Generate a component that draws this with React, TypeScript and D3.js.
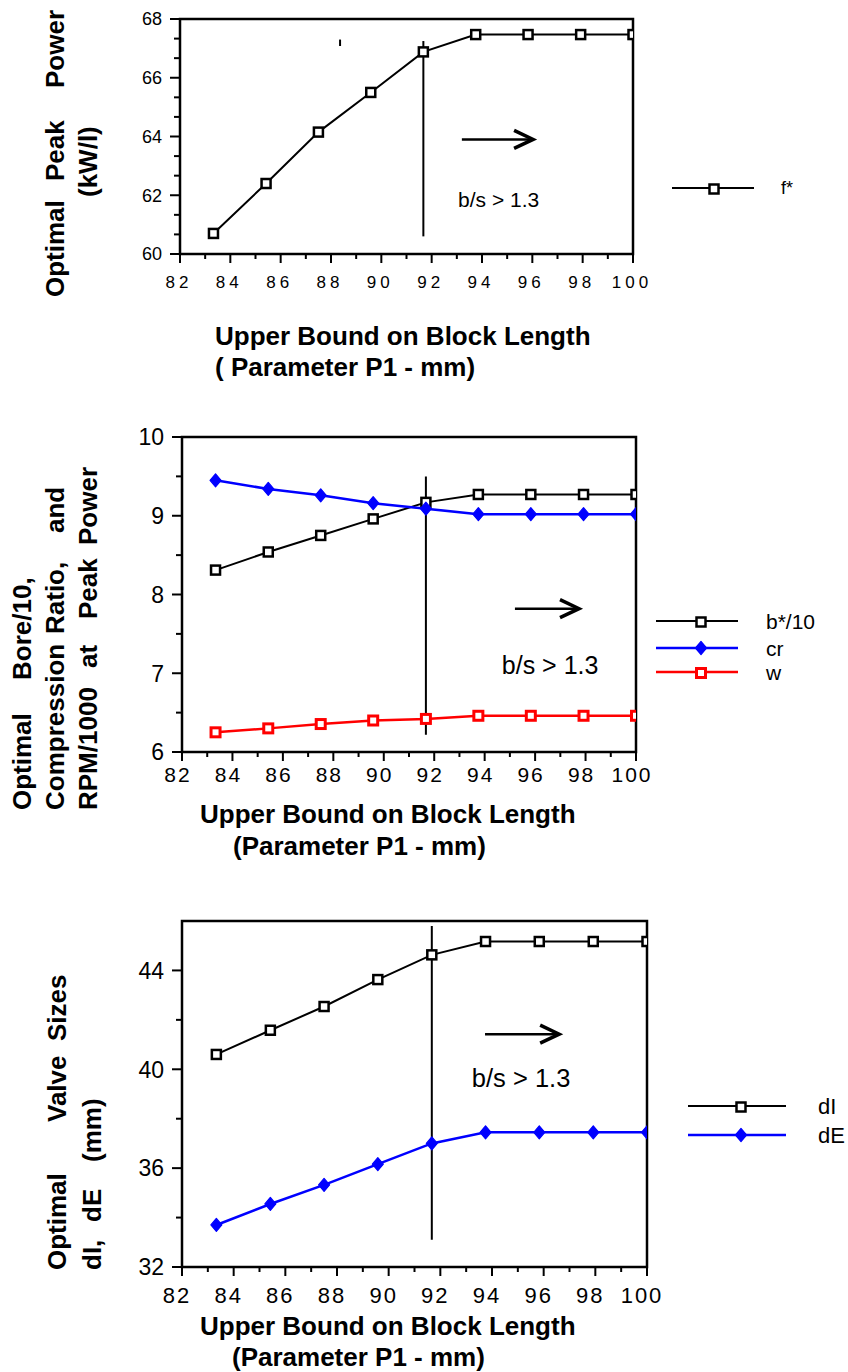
import React from "react";
import * as d3 from "d3";

const FONT = "'Liberation Sans', Arial, Helvetica, sans-serif";

// ---------- data ----------
const xValues = [83.33, 85.42, 87.5, 89.58, 91.67, 93.75, 95.83, 97.92, 100];
const fStar = [60.7, 62.4, 64.15, 65.5, 66.88, 67.47, 67.47, 67.47, 67.47];
const boreOver10 = [8.31, 8.54, 8.75, 8.96, 9.17, 9.27, 9.27, 9.27, 9.27];
const compressionRatio = [9.45, 9.34, 9.26, 9.16, 9.09, 9.02, 9.02, 9.02, 9.02];
const rpmOver1000 = [6.25, 6.3, 6.355, 6.4, 6.42, 6.46, 6.46, 6.46, 6.46];
const intakeValve = [40.6, 41.58, 42.54, 43.63, 44.63, 45.17, 45.17, 45.17, 45.17];
const exhaustValve = [33.7, 34.55, 35.32, 36.16, 37.0, 37.45, 37.45, 37.45, 37.45];

const xTicks = [82, 84, 86, 88, 90, 92, 94, 96, 98, 100];
const xMinorTicks = [83, 85, 87, 89, 91, 93, 95, 97, 99];
const yTicksTop = [60, 62, 64, 66, 68];
const yMinorTop = [60.667, 61.333, 62.667, 63.333, 64.667, 65.333, 66.667, 67.333];
const yTicksMid = [6, 7, 8, 9, 10];
const yMinorMid = [6.5, 7.5, 8.5, 9.5];
const yTicksBot = [32, 36, 40, 44];
const yMinorBot = [34, 38, 42];

const constraintX = 91.67;
const noteText = "b/s > 1.3";

type Series = { name: string; values: number[]; color: string; marker: "square" | "diamond" };

type Word = { t: string; y: number };
type PanelCfg = {
  id: string;
  l: number; t: number; r: number; b: number;
  yDomain: [number, number];
  yTicks: number[]; yMinor: number[];
  yTickFont: number;
  xTickFont: number; xTickLs: number; xTickBase: number; xTickDx: number;
  series: Series[];
  vline: [number, number, number];
  arrow: [number, number, number];
  note: [number, number, number];
  stray?: [number, number, number];
  legend: { x0: number; x1: number; mx: number; lx: number; ys: number[]; font: number };
  titles: { text: string; x: number; y: number }[];
  ylab: { base: number; words: Word[] }[];
};

const Marker: React.FC<{ type: string; x: number; y: number; color: string }> = ({ type, x, y, color }) => {
  if (type === "diamond") {
    const p = d3.path();
    p.moveTo(x, y - 6.5);
    p.lineTo(x + 5.5, y);
    p.lineTo(x, y + 6.5);
    p.lineTo(x - 5.5, y);
    p.closePath();
    return <path d={p.toString()} fill={color} stroke={color} strokeWidth={1.2} strokeLinejoin="round" />;
  }
  const s = 9;
  return (
    <rect x={x - s / 2} y={y - s / 2} width={s} height={s} fill="white" stroke={color}
      strokeWidth={color === "black" ? 2.5 : 3} />
  );
};

const Panel: React.FC<{ c: PanelCfg }> = ({ c }) => {
  const x = d3.scaleLinear().domain([82, 100]).range([c.l, c.r]);
  const y = d3.scaleLinear().domain(c.yDomain).range([c.b, c.t]);
  const line = d3.line<number>().x((_, i) => x(xValues[i])).y((v) => y(v));
  const clipId = `clip-${c.id}`;
  const [ax0, ax1, ay] = c.arrow;
  const tipX = x(ax1);
  const ayPx = y(ay);
  return (
    <g>
      <defs>
        <clipPath id={clipId}>
          <rect x={c.l} y={c.t - 1} width={c.r - c.l} height={c.b - c.t + 2} />
        </clipPath>
      </defs>
      {/* y ticks */}
      {c.yTicks.map((v) => (
        <g key={`yt${v}`}>
          <line x1={c.l - 10} x2={c.l} y1={y(v)} y2={y(v)} stroke="black" strokeWidth={2} />
          <text x={c.l - 18} y={y(v)} dy="0.36em" textAnchor="end" fontSize={c.yTickFont} fontFamily={FONT}>
            {v}
          </text>
        </g>
      ))}
      {c.yMinor.map((v) => (
        <line key={`ym${v}`} x1={c.l - 6} x2={c.l} y1={y(v)} y2={y(v)} stroke="black" strokeWidth={2} />
      ))}
      {/* x ticks */}
      {xTicks.map((v) => (
        <g key={`xt${v}`}>
          <line x1={x(v)} x2={x(v)} y1={c.b} y2={c.b + 9} stroke="black" strokeWidth={2} />
          <text x={x(v) + c.xTickDx} y={c.xTickBase} textAnchor="middle" fontSize={c.xTickFont}
            letterSpacing={c.xTickLs} fontFamily={FONT}>
            {v}
          </text>
        </g>
      ))}
      {xMinorTicks.map((v) => (
        <line key={`xm${v}`} x1={x(v)} x2={x(v)} y1={c.b} y2={c.b + 5} stroke="black" strokeWidth={2} />
      ))}
      {/* frame */}
      <rect x={c.l} y={c.t} width={c.r - c.l} height={c.b - c.t} fill="none" stroke="black" strokeWidth={2.5} />
      {/* constraint line */}
      <line x1={x(c.vline[0])} x2={x(c.vline[0])} y1={y(c.vline[1])} y2={y(c.vline[2])} stroke="black" strokeWidth={2} />
      {c.stray && (
        <line x1={x(c.stray[0])} x2={x(c.stray[0])} y1={y(c.stray[1])} y2={y(c.stray[2])} stroke="black" strokeWidth={2} />
      )}
      {/* arrow */}
      <line x1={x(ax0)} x2={tipX - 2} y1={ayPx} y2={ayPx} stroke="black" strokeWidth={2.5} />
      <polyline points={`${tipX - 19},${ayPx - 9} ${tipX},${ayPx} ${tipX - 19},${ayPx + 9}`} fill="none"
        stroke="black" strokeWidth={3.5} strokeLinejoin="miter" />
      <text x={x(c.note[0])} y={y(c.note[1])} fontSize={c.note[2]} fontFamily={FONT}>
        {noteText}
      </text>
      {/* series */}
      <g clipPath={`url(#${clipId})`}>
        {c.series.map((s) => (
          <g key={s.name}>
            <path d={line(s.values) || ""} fill="none" stroke={s.color} strokeWidth={s.color === "black" ? 2 : 2.5} />
            {s.values.map((v, i) => (
              <Marker key={i} type={s.marker} x={x(xValues[i])} y={y(v)} color={s.color} />
            ))}
          </g>
        ))}
      </g>
      {/* legend */}
      {c.series.map((s, i) => (
        <g key={`lg${s.name}`}>
          <line x1={c.legend.x0} x2={c.legend.x1} y1={c.legend.ys[i]} y2={c.legend.ys[i]} stroke={s.color}
            strokeWidth={s.color === "black" ? 2 : 2.5} />
          <Marker type={s.marker} x={c.legend.mx} y={c.legend.ys[i] + (s.marker === "square" ? 1 : 0)} color={s.color} />
          <text x={c.legend.lx} y={c.legend.ys[i]} dy="0.36em" fontSize={c.legend.font} fontFamily={FONT}>
            {s.name}
          </text>
        </g>
      ))}
      {/* x title */}
      {c.titles.map((tt) => (
        <text key={tt.text} x={tt.x} y={tt.y} fontSize={26} fontWeight="bold" fontFamily={FONT}>
          {tt.text}
        </text>
      ))}
      {/* y title (justified words) */}
      {c.ylab.map((ln, li) =>
        ln.words.map((wd) => (
          <text key={`${li}-${wd.t}`} x={ln.base} y={wd.y} transform={`rotate(-90 ${ln.base} ${wd.y})`}
            fontSize={26} fontWeight="bold" fontFamily={FONT}>
            {wd.t}
          </text>
        ))
      )}
    </g>
  );
};

const panels: PanelCfg[] = [
  {
    id: "top",
    l: 180, t: 19, r: 633, b: 254,
    yDomain: [60, 68], yTicks: yTicksTop, yMinor: yMinorTop, yTickFont: 18,
    xTickFont: 17, xTickLs: 4, xTickBase: 288, xTickDx: -1,
    series: [{ name: "f*", values: fStar, color: "black", marker: "square" }],
    vline: [constraintX, 60.6, 67.25],
    arrow: [93.2, 96.03, 63.9],
    note: [93.05, 61.6, 21],
    stray: [88.36, 67.08, 67.3],
    legend: { x0: 672, x1: 754, mx: 714, lx: 781, ys: [188], font: 18 },
    titles: [
      { text: "Upper Bound on Block Length", x: 215, y: 345 },
      { text: "( Parameter P1 - mm)", x: 215, y: 376 },
    ],
    ylab: [
      { base: 64, words: [{ t: "Optimal", y: 297 }, { t: "Peak", y: 181 }, { t: "Power", y: 88 }] },
      { base: 97, words: [{ t: "(kW/l)", y: 197 }] },
    ],
  },
  {
    id: "mid",
    l: 182, t: 437, r: 636, b: 752,
    yDomain: [6, 10], yTicks: yTicksMid, yMinor: yMinorMid, yTickFont: 23,
    xTickFont: 21, xTickLs: 2, xTickBase: 782, xTickDx: -4,
    series: [
      { name: "b*/10", values: boreOver10, color: "black", marker: "square" },
      { name: "cr", values: compressionRatio, color: "#0000ff", marker: "diamond" },
      { name: "w", values: rpmOver1000, color: "#ff0000", marker: "square" },
    ],
    vline: [constraintX, 6.22, 9.5],
    arrow: [95.2, 97.74, 7.82],
    note: [94.68, 6.99, 25],
    legend: { x0: 656, x1: 738, mx: 701, lx: 766, ys: [621, 648, 672], font: 21 },
    titles: [
      { text: "Upper Bound on Block Length", x: 200, y: 823 },
      { text: "(Parameter P1 - mm)", x: 233, y: 855 },
    ],
    ylab: [
      { base: 31, words: [{ t: "Optimal", y: 810 }, { t: "Bore/10,", y: 680 }] },
      { base: 64, words: [{ t: "Compression", y: 810 }, { t: "Ratio,", y: 634 }, { t: "and", y: 533 }] },
      {
        base: 97,
        words: [{ t: "RPM/1000", y: 810 }, { t: "at", y: 668 }, { t: "Peak", y: 619 }, { t: "Power", y: 545 }],
      },
    ],
  },
  {
    id: "bot",
    l: 182, t: 921, r: 647, b: 1267,
    yDomain: [32, 46], yTicks: yTicksBot, yMinor: yMinorBot, yTickFont: 23,
    xTickFont: 22, xTickLs: 2, xTickBase: 1303, xTickDx: -5,
    series: [
      { name: "dI", values: intakeValve, color: "black", marker: "square" },
      { name: "dE", values: exhaustValve, color: "#0000ff", marker: "diamond" },
    ],
    vline: [constraintX, 33.1, 45.8],
    arrow: [93.73, 96.6, 41.42],
    note: [93.22, 39.3, 25.5],
    legend: { x0: 688, x1: 786, mx: 741, lx: 818, ys: [1106, 1135], font: 22 },
    titles: [
      { text: "Upper Bound on Block Length", x: 200, y: 1335 },
      { text: "(Parameter P1 - mm)", x: 232, y: 1366 },
    ],
    ylab: [
      { base: 66, words: [{ t: "Optimal", y: 1270 }, { t: "Valve", y: 1122 }, { t: "Sizes", y: 1041 }] },
      { base: 101, words: [{ t: "dI,", y: 1270 }, { t: "dE", y: 1222 }, { t: "(mm)", y: 1162 }] },
    ],
  },
];

export default function App() {
  return (
    <svg width={848} height={1372} style={{ position: "absolute", left: 0, top: 0, background: "white" }}>
      <rect width={848} height={1372} fill="white" />
      {panels.map((p) => (
        <Panel key={p.id} c={p} />
      ))}
    </svg>
  );
}
